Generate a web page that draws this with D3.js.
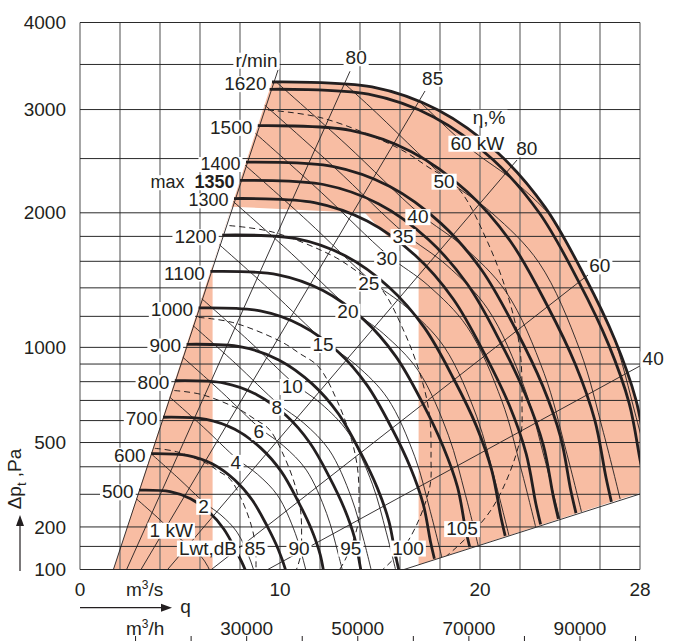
<!DOCTYPE html>
<html>
<head>
<meta charset="utf-8">
<script src="https://cdn.jsdelivr.net/npm/d3@7"></script>
<style>
  body { margin: 0; background: #fff; }
  svg { display: block; font-family: "Liberation Sans", Arial, Helvetica, sans-serif; }
  text { fill: #231f20; font-size: 19px; }
</style>
</head>
<body>
<svg id="chart"></svg>
<script>
var width = 685;
var height = 641;

// axes
var flowTicks = d3.range(0, 29, 2);
var flowLabels = [0, 10, 20, 28];
var pressureTicks = [100, 150, 200, 300, 400, 500, 600, 700, 800, 900, 1000, 1200, 1400, 1600, 1800, 2000, 2500, 3000, 3500, 4000];
var pressureLabels = [100, 200, 500, 1000, 2000, 3000, 4000];
var hourTicks = d3.range(10000, 100001, 10000);
var hourLabels = [30000, 50000, 70000, 90000];

// fan speed curves [q m3/s, dp Pa]
var rpm500 = [[2.96,314],[4.51,309],[5.53,285],[6.45,243],[7.18,195],[7.79,141],[8.26,99.6],[8.58,66.9],[8.77,39.9],[8.86,30.6]];
var rpm600 = [[3.56,453],[5.41,445],[6.63,411],[7.74,350],[8.61,281],[9.35,203],[9.91,143.5],[10.30,96.3],[10.52,57.5],[10.63,44]];
var rpm700 = [[4.15,616],[6.31,606],[7.74,559],[9.03,477],[10.05,383],[10.91,276],[11.56,195],[12.01,131],[12.27,78.2],[12.40,59.9]];
var rpm800 = [[4.74,805],[7.21,792],[8.84,730],[10.32,623],[11.48,500],[12.47,361],[13.21,255],[13.73,171],[14.03,102],[14.17,78.3]];
var rpm900 = [[5.33,1019],[8.11,1002],[9.94,924],[11.61,788],[12.92,633],[14.03,457],[14.86,323],[15.44,217],[15.78,129],[15.94,99.1]];
var rpm1000 = [[5.93,1258],[9.01,1237],[11.05,1141],[12.90,973],[14.35,781],[15.59,564],[16.51,399],[17.16,268],[17.53,160],[17.72,122]];
var rpm1100 = [[6.52,1522],[9.91,1497],[12.15,1381],[14.19,1178],[15.79,945],[17.15,682],[18.16,482],[18.88,324],[19.28,193],[19.49,148]];
var rpm1200 = [[7.11,1811],[10.82,1781],[13.26,1643],[15.48,1401],[17.22,1125],[18.70,812],[19.82,574],[20.59,385],[21.04,230],[21.26,176]];
var rpm1300 = [[7.70,2126],[11.72,2090],[14.36,1929],[16.77,1645],[18.66,1320],[20.26,953],[21.47,674],[22.31,452],[22.79,270],[23.03,207]];
var rpm1350 = [[8.00,2292],[12.17,2254],[14.92,2080],[17.42,1774],[19.38,1424],[21.04,1028],[22.29,726],[23.17,488],[23.67,291],[23.92,223]];
var rpm1400 = [[8.30,2465],[12.62,2424],[15.47,2237],[18.06,1907],[20.09,1531],[21.82,1105],[23.12,781],[24.03,524],[24.54,313],[24.80,240]];
var rpm1500 = [[8.89,2830],[13.52,2783],[16.57,2568],[19.35,2190],[21.53,1758],[23.38,1269],[24.77,897],[25.74,602],[26.30,359],[26.57,275]];
var rpm1600 = [[9.48,3220],[14.42,3166],[17.68,2922],[20.64,2491],[22.96,2000],[24.94,1444],[26.42,1020],[27.46,685],[28.05,409],[28.35,313]];
var rpm1620 = [[9.60,3301],[14.60,3246],[17.90,2995],[20.90,2554],[23.25,2050],[25.25,1480],[26.75,1046],[27.80,702],[28.40,419],[28.70,321]];
var speedNames = ['500', '600', '700', '800', '900', '1000', '1100', '1200', '1300', '1350', '1400', '1500', '', '1620'];
var speedCurves = [rpm500, rpm600, rpm700, rpm800, rpm900, rpm1000, rpm1100, rpm1200, rpm1300, rpm1350, rpm1400, rpm1500, rpm1600, rpm1620];

// shaft power lines, kW
var kw1 = [[2.82,285],[3.89,226],[4.96,170.5],[5.60,147],[6.23,117],[6.79,72.3],[7.10,40.1],[7.34,20.1]];
var kw2 = [[3.56,452],[4.90,358],[6.25,271],[7.05,234],[7.85,186],[8.55,115],[8.95,63.7],[9.25,31.9]];
var kw4 = [[4.48,718],[6.17,569],[7.87,430],[8.88,371],[9.89,295],[10.77,182],[11.28,101],[11.65,50.6]];
var kw6 = [[5.13,941],[7.07,745],[9.01,563],[10.17,486],[11.32,387],[12.33,239],[12.91,133],[13.34,66.4]];
var kw8 = [[5.64,1140],[7.78,903],[9.92,682],[11.19,588],[12.46,468],[13.57,289],[14.21,161],[14.68,80.4]];
var kw10 = [[6.08,1323],[8.38,1048],[10.69,791],[12.06,683],[13.42,543],[14.62,335],[15.31,186],[15.82,93.3]];
var kw15 = [[6.96,1733],[9.59,1373],[12.23,1037],[13.80,895],[15.37,712],[16.74,440],[17.52,244],[18.11,122]];
var kw20 = [[7.66,2100],[10.56,1663],[13.47,1256],[15.19,1084],[16.91,862],[18.42,532],[19.28,296],[19.93,148]];
var kw25 = [[8.25,2437],[11.37,1930],[14.51,1458],[16.36,1258],[18.22,1001],[19.84,618],[20.77,343],[21.47,172]];
var kw30 = [[8.77,2752],[12.08,2179],[15.41,1646],[17.39,1420],[19.36,1130],[21.09,698],[22.07,387],[22.81,194]];
var kw35 = [[9.23,3049],[12.72,2415],[16.23,1824],[18.30,1574],[20.38,1252],[22.20,773],[23.24,429],[24.02,215]];
var kw40 = [[9.65,3333],[13.30,2640],[16.97,1994],[19.14,1720],[21.31,1369],[23.21,845],[24.29,469],[25.11,235]];
var kw50 = [[10.40,3868],[14.33,3063],[18.28,2314],[20.61,1996],[22.95,1589],[25.00,981],[26.17,545],[27.05,273]];
var kw60 = [[11.05,4368],[15.23,3459],[19.42,2613],[21.91,2254],[24.39,1794],[26.57,1107],[27.81,615],[28.74,308]];
var kwValues = [1, 2, 4, 6, 8, 10, 15, 20, 25, 30, 35, 40, 50, 60];
var kwCurves = [kw1, kw2, kw4, kw6, kw8, kw10, kw15, kw20, kw25, kw30, kw35, kw40, kw50, kw60];

// sound power Lwt, dB
var db85 = [[3.74,475],[4.82,461],[6.33,413],[6.93,383],[7.52,352],[8.12,277],[8.56,205],[8.76,156],[8.80,110],[8.76,81],[8.22,41],[7.50,23.6],[6.57,11.6]];
var db90 = [[4.71,752],[6.07,731],[7.97,654],[8.72,608],[9.47,558],[10.22,439],[10.78,325],[11.03,247],[11.08,174],[11.03,128],[10.35,65],[9.45,37.3],[8.27,18.4]];
var db95 = [[5.93,1193],[7.64,1159],[10.03,1037],[10.98,963],[11.93,884],[12.87,695],[13.57,514],[13.88,392],[13.95,275],[13.88,203],[13.03,103],[11.89,59.2],[10.41,29.2]];
var db100 = [[7.47,1890],[9.61,1837],[12.63,1643],[13.82,1526],[15.01,1402],[16.20,1101],[17.08,815],[17.48,621],[17.55,436],[17.48,322],[16.40,163],[14.97,93.8],[13.11,46.3]];
var db105 = [[9.40,2995],[12.10,2911],[15.90,2604],[17.40,2419],[18.90,2221],[20.40,1746],[21.50,1292],[22.00,983],[22.10,691],[22.00,511],[20.65,259],[18.85,149],[16.50,73.4]];
var dbValues = [85, 90, 95, 100, 105];
var dbCurves = [db85, db90, db95, db100, db105];
var dbLabelAt = [[8.75,150],[10.95,150],[13.54,150],[16.4,150],[19.1,200]];

// efficiency lines, %
var etaValues = [80, 85, 80, 60, 40];
var etaLines = [
  [[2.33,100],[13.5,3422]],
  [[3.05,100],[17.25,3201]],
  [[4.38,100],[21.85,2486]],
  [[6.57,100],[25.4,1495]],
  [[9.39,100],[28.0,889]]
];
var stallLine = [[1.67,100],[9.9,3436]];
var boundaryLine = [[16.2,100],[28,301]];
var whiteArea = [[7.58,2054],[14.25,1998],[15.4,1795],[16.93,1689],[16.93,100],[6.63,100],[6.63,1571]];

var salmon = '#f8bda3';
var ink = '#231f20';

var svg = d3.select('#chart')
  .attr('width', width)
  .attr('height', height);

var x = d3.scaleLinear().domain([0, 28]).range([80, 640]);
var xh = d3.scaleLinear().domain([0, 28 * 3600]).range([80, 640]);
var y = d3.scaleSqrt().domain([100, 4000]).range([569.5, 22.5]);

var line = d3.line()
  .x(d => x(d[0]))
  .y(d => y(d[1]))
  .curve(d3.curveCatmullRom.alpha(0.5));
var straight = d3.line()
  .x(d => x(d[0]))
  .y(d => y(d[1]));

var envelope = 'M' + x(stallLine[0][0]) + ',' + y(stallLine[0][1]) +
  'L' + line(rpm1620).slice(1) +
  'L' + x(boundaryLine[0][0]) + ',' + y(boundaryLine[0][1]) + 'Z';

var defs = svg.append('defs');
defs.append('clipPath').attr('id', 'plot')
  .append('rect')
  .attr('x', x(0))
  .attr('y', y(4000))
  .attr('width', x(28) - x(0))
  .attr('height', y(100) - y(4000));
defs.append('clipPath').attr('id', 'env')
  .append('path')
  .attr('d', envelope);

// shaded operating area
var area = svg.append('g').attr('clip-path', 'url(#plot)');
area.append('path').attr('d', envelope).attr('fill', salmon);
area.append('path').attr('d', straight(whiteArea) + 'Z').attr('fill', '#fff');

// grid
svg.append('g')
  .selectAll('line')
  .data(flowTicks)
  .enter()
  .append('line')
  .attr('x1', d => x(d))
  .attr('x2', d => x(d))
  .attr('y1', y(100))
  .attr('y2', y(4000))
  .attr('stroke', '#6a6a6a')
  .attr('stroke-width', 1.2);

svg.append('g')
  .selectAll('line')
  .data(pressureTicks)
  .enter()
  .append('line')
  .attr('x1', x(0))
  .attr('x2', x(28))
  .attr('y1', d => y(d))
  .attr('y2', d => y(d))
  .attr('stroke', '#2a2a2a')
  .attr('stroke-width', 1);

// thin power lines and dashed sound lines, inside the envelope
var thin = svg.append('g').attr('clip-path', 'url(#plot)')
  .append('g').attr('clip-path', 'url(#env)');

thin.selectAll('.kw')
  .data(kwCurves)
  .enter()
  .append('path')
  .attr('class', 'kw')
  .attr('d', line)
  .attr('fill', 'none')
  .attr('stroke', ink)
  .attr('stroke-width', 0.9);

thin.selectAll('.db')
  .data(dbCurves)
  .enter()
  .append('path')
  .attr('class', 'db')
  .attr('d', line)
  .attr('fill', 'none')
  .attr('stroke', ink)
  .attr('stroke-width', 1)
  .attr('stroke-dasharray', '6,4');

// straight system lines
var straightG = svg.append('g').attr('clip-path', 'url(#plot)');
straightG.selectAll('.eta')
  .data(etaLines.concat([stallLine, boundaryLine]))
  .enter()
  .append('path')
  .attr('d', straight)
  .attr('fill', 'none')
  .attr('stroke', ink)
  .attr('stroke-width', 0.9);

// speed curves
svg.append('g').attr('clip-path', 'url(#plot)')
  .selectAll('path')
  .data(speedCurves)
  .enter()
  .append('path')
  .attr('d', line)
  .attr('fill', 'none')
  .attr('stroke', ink)
  .attr('stroke-width', 2.8);

// labels with white knock-out boxes
var labels = svg.append('g');

function boxLabel(px, py, txt, anchor, size) {
  var g = labels.append('g');
  var t = g.append('text')
    .attr('x', px)
    .attr('y', py)
    .attr('dy', '0.35em')
    .attr('text-anchor', anchor || 'middle');
  if (size) t.style('font-size', size + 'px');
  if (typeof txt === 'string') {
    t.text(txt);
  } else {
    txt(t);
  }
  var b = t.node().getBBox();
  g.insert('rect', 'text')
    .attr('x', b.x - 2)
    .attr('y', b.y + 3)
    .attr('width', b.width + 4)
    .attr('height', b.height - 5)
    .attr('fill', '#fff');
  return g;
}

speedCurves.forEach(function(c, i) {
  var name = speedNames[i];
  if (!name) return;
  var px = x(c[0][0]) - 5.5;
  var py = y(c[0][1]) + 1.5;
  if (name === '1350') {
    boxLabel(px, py, function(t) {
      t.append('tspan').text('max');
      t.append('tspan').attr('dx', 10).attr('font-weight', 'bold').text('1350');
    }, 'end', 18);
  } else if (name === '1400' || name === '1300') {
    boxLabel(px, py, name, 'end', 18);
  } else {
    boxLabel(px, py, name, 'end');
  }
});

boxLabel(x(stallLine[1][0]) - 21.5, y(stallLine[1][1]) - 10, 'r/min');

kwCurves.forEach(function(c, i) {
  var v = kwValues[i];
  var px = x(c[2][0]);
  var py = y(c[2][1]);
  if (v === 1) {
    boxLabel(px - 8, py - 8, '1 kW');
  } else if (v === 60) {
    boxLabel(px - 18, py - 4, '60 kW', 'start');
  } else {
    boxLabel(px - 1.5, py + 3, String(v));
  }
});

dbCurves.forEach(function(c, i) {
  boxLabel(x(dbLabelAt[i][0]), y(dbLabelAt[i][1]) + 1.5, String(dbValues[i]));
});
boxLabel(x(dbLabelAt[0][0]) - 18, y(dbLabelAt[0][1]) + 1.5, 'Lwt,dB', 'end');

etaLines.forEach(function(l, i) {
  var x0 = x(l[0][0]), y0 = y(l[0][1]);
  var x1 = x(l[1][0]), y1 = y(l[1][1]);
  var len = Math.hypot(x1 - x0, y1 - y0);
  boxLabel(x1 + (x1 - x0) / len * 15, y1 + (y1 - y0) / len * 15, String(etaValues[i]));
});
boxLabel(x(20.45), y(2920), 'η,%');

// left axis
svg.append('g')
  .selectAll('text')
  .data(pressureLabels)
  .enter()
  .append('text')
  .attr('x', 66)
  .attr('y', d => y(d))
  .attr('dy', '0.35em')
  .attr('text-anchor', 'end')
  .text(d => d);

var yTitle = svg.append('text')
  .attr('transform', 'translate(21,479) rotate(-90)')
  .attr('text-anchor', 'middle');
yTitle.append('tspan').text('Δp');
yTitle.append('tspan').attr('font-size', '13px').attr('dy', 5).text('t');
yTitle.append('tspan').attr('dy', -5).text(' ,Pa');

svg.append('line')
  .attr('x1', 20).attr('x2', 20)
  .attr('y1', 571).attr('y2', 524)
  .attr('stroke', ink).attr('stroke-width', 1.2);
svg.append('path')
  .attr('d', 'M20,515L16,526L24,526Z')
  .attr('fill', ink);

// bottom axis
svg.append('g')
  .selectAll('text')
  .data(flowLabels)
  .enter()
  .append('text')
  .attr('x', d => x(d))
  .attr('y', 596)
  .attr('text-anchor', 'middle')
  .text(d => d);

var unitS = svg.append('text').attr('x', 126).attr('y', 596);
unitS.append('tspan').text('m');
unitS.append('tspan').attr('font-size', '12px').attr('dy', -7).text('3');
unitS.append('tspan').attr('dy', 7).text('/s');

svg.append('line')
  .attr('x1', 80).attr('x2', 163)
  .attr('y1', 607.7).attr('y2', 607.7)
  .attr('stroke', ink).attr('stroke-width', 1.2);
svg.append('path')
  .attr('d', 'M172,607.7L161,603.7L161,611.7Z')
  .attr('fill', ink);
svg.append('text')
  .attr('x', 185.5)
  .attr('y', 613)
  .attr('text-anchor', 'middle')
  .text('q');

var unitH = svg.append('text').attr('x', 126).attr('y', 634.5);
unitH.append('tspan').text('m');
unitH.append('tspan').attr('font-size', '12px').attr('dy', -7).text('3');
unitH.append('tspan').attr('dy', 7).text('/h');

svg.append('g')
  .selectAll('text')
  .data(hourLabels)
  .enter()
  .append('text')
  .attr('x', d => xh(d))
  .attr('y', 634.5)
  .attr('text-anchor', 'middle')
  .text(d => d);

svg.append('g')
  .selectAll('line')
  .data(hourTicks)
  .enter()
  .append('line')
  .attr('x1', d => xh(d))
  .attr('x2', d => xh(d))
  .attr('y1', 636)
  .attr('y2', 641)
  .attr('stroke', ink)
  .attr('stroke-width', 1);
</script>
</body>
</html>
